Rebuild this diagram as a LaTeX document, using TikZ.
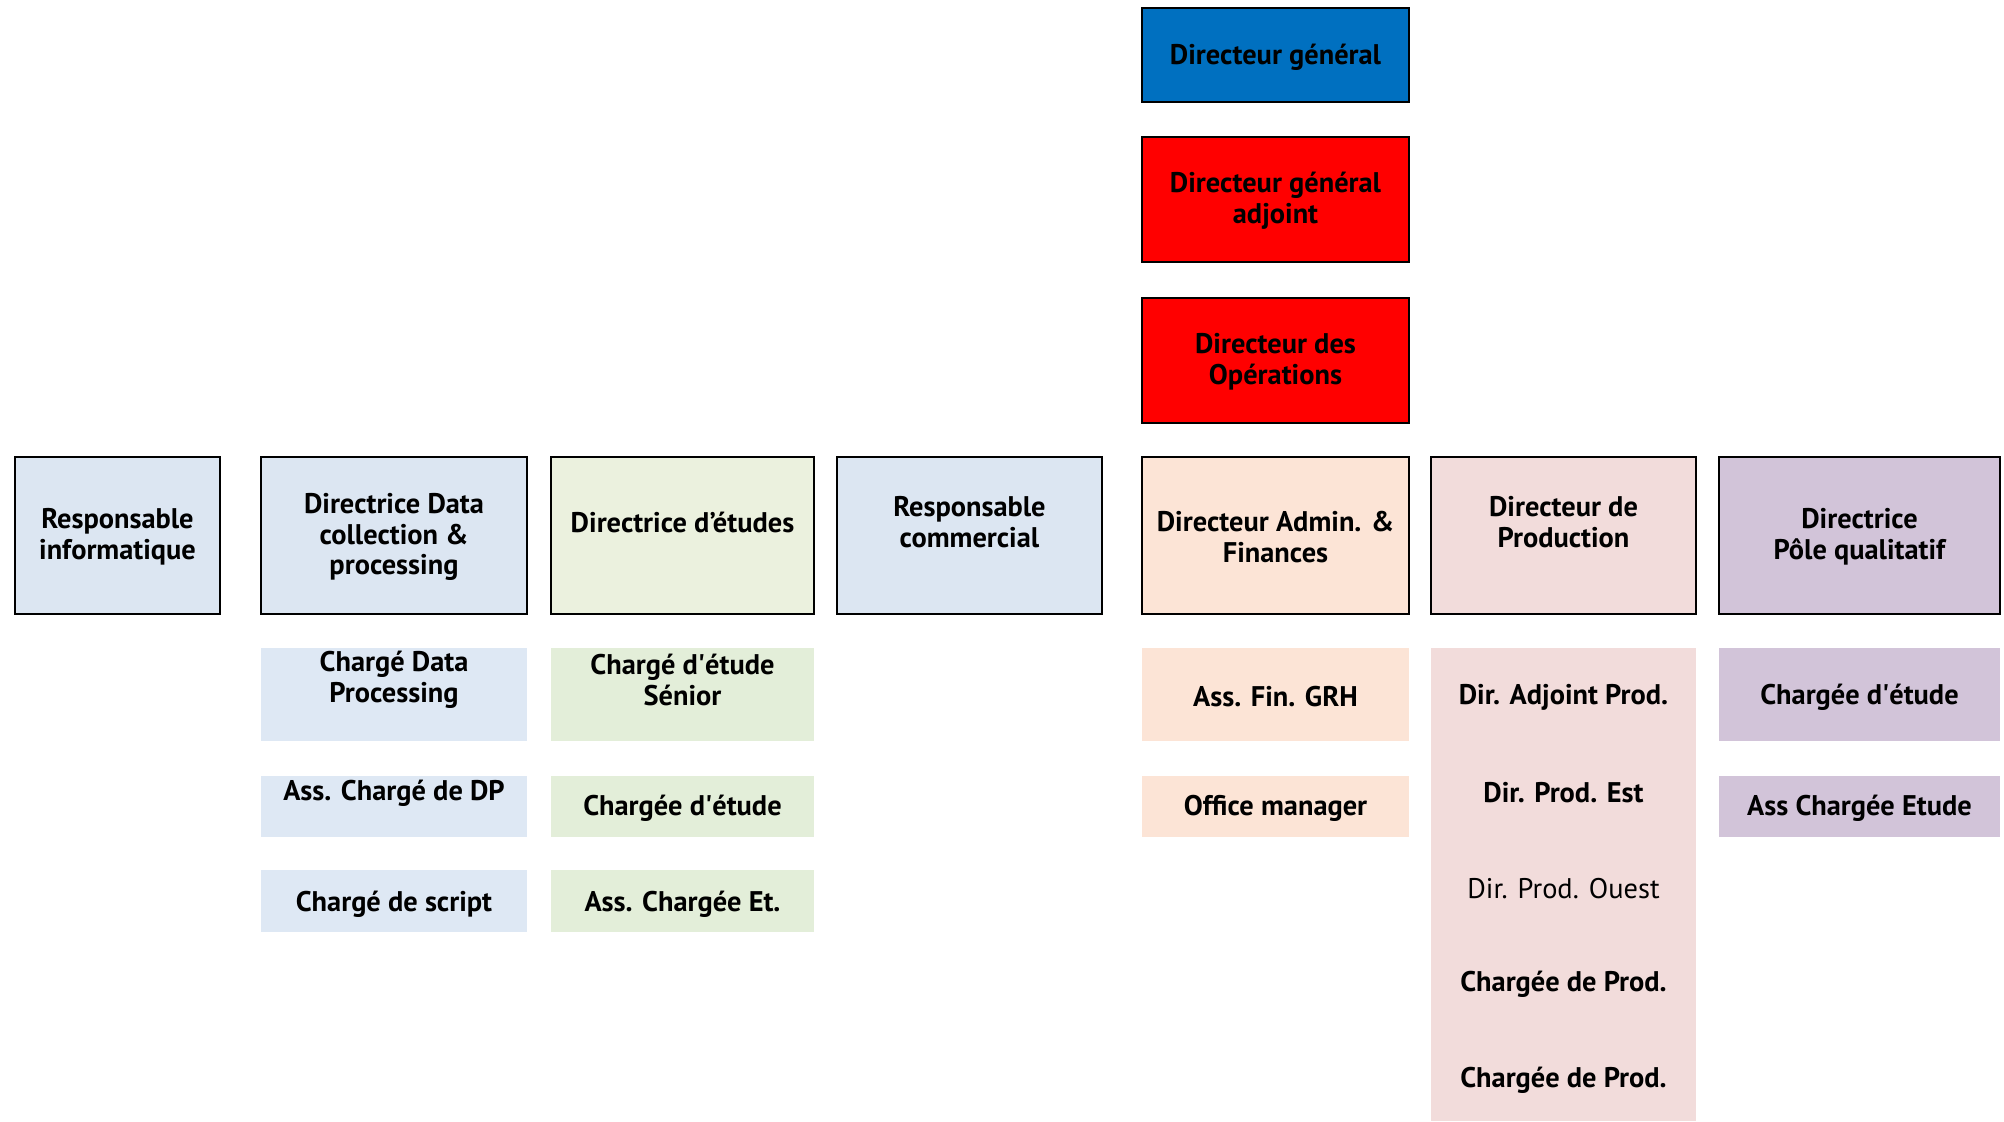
\documentclass[tikz,border=0pt]{standalone}
\usepackage{fontspec}
\setmainfont{PT Sans}
\begin{document}
\begin{tikzpicture}[x=0.5pt,y=-0.5pt,
  bw/.style={minimum width=#1*0.5pt},
  bh/.style={minimum height=#1*0.5pt},
  box/.style={draw=black, line width=1.2pt, rectangle, inner sep=0pt},
  sub/.style={draw=none, rectangle, inner sep=0pt},
  txt/.style={align=center, inner sep=0pt, yshift=-1.5pt, font=\fontsize{14.2}{15.4}\selectfont\bfseries},
  txtn/.style={align=center, inner sep=0pt, yshift=-1.5pt, font=\fontsize{14.2}{15.4}\selectfont},
]
\definecolor{dgblue}{HTML}{0070C0}
\definecolor{dgred}{HTML}{FF0000}
\definecolor{hblue}{HTML}{DCE6F2}
\definecolor{sblue}{HTML}{DEE8F4}
\definecolor{hgreen}{HTML}{EBF1DE}
\definecolor{sgreen}{HTML}{E3EED9}
\definecolor{peach}{HTML}{FCE4D6}
\definecolor{pink}{HTML}{F2DCDB}
\definecolor{purple}{HTML}{D2C4D9}

\useasboundingbox (0,0) rectangle (2004,1121);

% direction
\node[box, fill=dgblue, bw=267, bh=94]  (dg)  at (1275.5,55)    {};
\node[box, fill=dgred,  bw=267, bh=125] (dga) at (1275.5,199.5) {};
\node[box, fill=dgred,  bw=267, bh=125] (dop) at (1275.5,360.5) {};
\node[txt] (dg-t)  at (1275.5,54)  {Directeur général};
\node[txt] (dga-t) at (1275.5,198) {Directeur général\\adjoint};
\node[txt] (dop-t) at (1275.5,359) {Directeur des\\Opérations};

% heads of department
\node[box, fill=hblue,  bw=205, bh=157] (ri)  at (117.5,535.5)  {};
\node[box, fill=hblue,  bw=266, bh=157] (dd)  at (394,535.5)    {};
\node[box, fill=hgreen, bw=263, bh=157] (de)  at (682.5,535.5)  {};
\node[box, fill=hblue,  bw=265, bh=157] (rc)  at (969.5,535.5)  {};
\node[box, fill=peach,  bw=267, bh=157] (daf) at (1275.5,535.5) {};
\node[box, fill=pink,   bw=265, bh=157] (dp)  at (1563.5,535.5) {};
\node[box, fill=purple, bw=281, bh=157] (dq)  at (1859.5,535.5) {};

\node[txt] (ri-t)  at (117.5,534)  {Responsable\\informatique};
\node[txt] (dd-t)  at (394,534)    {Directrice Data\\collection \&\\processing};
\node[txt] (de-t)  at (682.5,519)  {Directrice d’études};
\node[txt] (rc-t)  at (969.5,519)  {Responsable\\commercial};
\node[txt] (daf-t) at (1275.5,534) {Directeur Admin. \&\\Finances};
\node[txt] (dp-t)  at (1563.5,519) {Directeur de\\Production};
\node[txt] (dq-t)  at (1859.5,534) {Directrice\\Pôle qualitatif};

% data collection & processing team
\node[sub, fill=sblue, bw=266, bh=93] (cdp) at (394,694.5) {};
\node[sub, fill=sblue, bw=266, bh=61] (acd) at (394,806.5) {};
\node[sub, fill=sblue, bw=266, bh=62] (cs)  at (394,901)   {};
\node[txt] (cdp-t) at (394,677) {Chargé Data\\Processing};
\node[txt] (acd-t) at (394,790) {Ass. Chargé de DP};
\node[txt] (cs-t)  at (394,901) {Chargé de script};

% studies team
\node[sub, fill=sgreen, bw=263, bh=93] (ces) at (682.5,694.5) {};
\node[sub, fill=sgreen, bw=263, bh=61] (ce)  at (682.5,806.5) {};
\node[sub, fill=sgreen, bw=263, bh=62] (ace) at (682.5,901)   {};
\node[txt] (ces-t) at (682.5,677) {Chargé d\textquotesingle étude\\Sénior};
\node[txt] (ce-t)  at (682.5,805) {Chargée d\textquotesingle étude};
\node[txt] (ace-t) at (682.5,901) {Ass. Chargée Et.};

% admin & finance team
\node[sub, fill=peach, bw=267, bh=93] (afg) at (1275.5,694.5) {};
\node[sub, fill=peach, bw=267, bh=61] (om)  at (1275.5,806.5) {};
\node[txt] (afg-t) at (1275.5,694) {Ass. Fin. GRH};
\node[txt] (om-t)  at (1275.5,805) {Office manager};

% production team
\node[sub, fill=pink, bw=265, bh=473] (prod) at (1563.5,884.5) {};
\node[txt]  (pa)  at (1563.5,694)  {Dir. Adjoint Prod.};
\node[txt]  (pe)  at (1563.5,790)  {Dir. Prod. Est};
\node[txtn] (po)  at (1563.5,886)  {Dir. Prod. Ouest};
\node[txt]  (pc1) at (1563.5,981)  {Chargée de Prod.};
\node[txt]  (pc2) at (1563.5,1077) {Chargée de Prod.};

% qualitative team
\node[sub, fill=purple, bw=281, bh=93] (qce) at (1859.5,694.5) {};
\node[sub, fill=purple, bw=281, bh=61] (qac) at (1859.5,806.5) {};
\node[txt] (qce-t) at (1859.5,694) {Chargée d\textquotesingle étude};
\node[txt] (qac-t) at (1859.5,805) {Ass Chargée Etude};
\end{tikzpicture}
\end{document}
